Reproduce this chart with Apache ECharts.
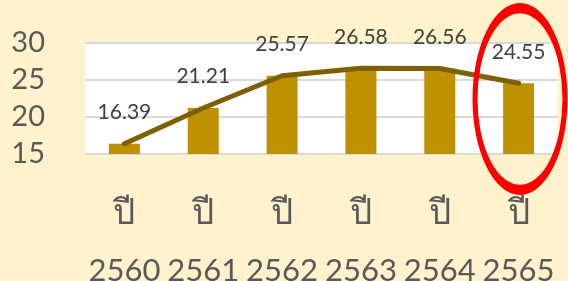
<!DOCTYPE html>
<html>
<head>
<meta charset="utf-8">
<script src="https://cdn.jsdelivr.net/npm/echarts@6/dist/echarts.min.js"></script>
<style>
  html, body { margin: 0; padding: 0; background: #fff2cc; }
  #chart { width: 568px; height: 281px; }
</style>
</head>
<body>
<div id="chart"></div>
<script>
var years = ['2560', '2561', '2562', '2563', '2564', '2565'];
var values = [16.39, 21.21, 25.57, 26.58, 26.56, 24.55];
var yTicks = [15, 20, 25, 30];

var font = 'Lato, "Noto Sans", sans-serif';

var option = {
    backgroundColor: '#fff2cc',
    animation: false,
    grid: {
        left: 85, right: 10, top: 43, height: 111,
        outerBoundsMode: 'none', containLabel: false,
        backgroundColor: '#ffffff', show: true, borderWidth: 0
    },
    xAxis: {
        type: 'category', data: years,
        axisLine: { show: false }, axisTick: { show: false },
        axisLabel: {
            interval: 0, hideOverlap: false,
            margin: 30,
            color: '#595959',
            formatter: function (v) { return '{t|ปี}\n{n|' + v + '}'; },
            rich: {
                t: { fontFamily: font, fontSize: 35, lineHeight: 58, color: '#595959' },
                n: { fontFamily: font, fontSize: 31, lineHeight: 58, color: '#595959' }
            }
        }
    },
    yAxis: {
        type: 'value', min: yTicks[0], max: yTicks[yTicks.length - 1], interval: 5,
        axisLine: { show: false }, axisTick: { show: false },
        axisLabel: { margin: 40, fontFamily: font, fontSize: 29, color: '#595959', padding: [7, 0, 0, 0] },
        splitLine: { lineStyle: { color: '#d9d9d9', width: 2 } }
    },
    series: [
        {
            type: 'bar', data: values,
            barWidth: 31, itemStyle: { color: '#bf9000' },
            label: {
                show: true, position: 'top', distance: 21,
                fontFamily: font, fontSize: 21, color: '#404040',
                formatter: function (p) { return p.value.toFixed(2); }
            }
        },
        {
            type: 'line', data: values,
            symbol: 'none',
            lineStyle: { color: '#7f6000', width: 5, cap: 'round', join: 'round' }
        }
    ],
    graphic: [
        {
            type: 'circle', x: 520, y: 99, scaleY: 2.02, z: 100,
            shape: { r: 45 },
            style: { fill: 'none', stroke: '#ff0000', lineWidth: 5, strokeNoScale: true }
        }
    ]
};
echarts.init(document.getElementById('chart')).setOption(option);
</script>
</body>
</html>
